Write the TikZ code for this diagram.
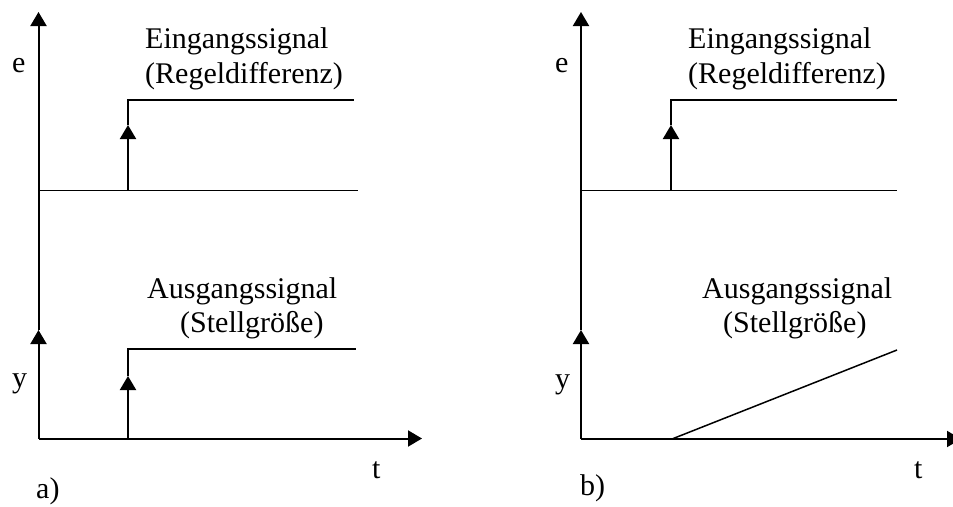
\documentclass[tikz,border=0pt]{standalone}
\usepackage{fontspec}
\setmainfont{Liberation Serif}
\usetikzlibrary{arrows.meta}
\begin{document}
\begin{tikzpicture}[x=1pt,y=-1pt,
  ax/.style={line width=2pt,line cap=butt},
  arr/.style={ax,-{Triangle[width=16pt,length=14pt]}},
  lbl/.style={inner sep=0pt,anchor=base west,font=\fontsize{30}{34}\selectfont},
  sig/.style={line width=1.9pt},
  ramp/.style={line width=1.5pt}]
\useasboundingbox[fill=white] (0,0) rectangle (953,506);
% ---------- panel a ----------
\coordinate (aO) at (38.5,438.5);
\coordinate (aYa) at (38.5,330);
\coordinate (aTop) at (38.5,12);
\coordinate (aT) at (422,438.5);
\coordinate (aE0) at (38.5,190.5);
\coordinate (aEs) at (128,190.5);
\coordinate (aEa) at (128,125);
\coordinate (aEh) at (128,100);
\coordinate (aEe) at (354,100);
\coordinate (aEb) at (358,190.5);
\coordinate (aYs) at (128,438.5);
\coordinate (aYar) at (128,376);
\coordinate (aYh) at (128,349);
\coordinate (aYe) at (356,349);
\draw[arr] (aO) -- (aYa);
\draw[arr] (aYa) -- (aTop);
\draw[arr] (aO) -- (aT);
\draw[sig] (aE0) -- (aEb);
\draw[arr] (aEs) -- (aEa);
\draw[sig] (aEa) -- (aEh) -- (aEe);
\draw[arr] (aYs) -- (aYar);
\draw[sig] (aYar) -- (aYh) -- (aYe);
\node[lbl] (ae) at (12,72) {e};
\node[lbl] (ay) at (12,387) {y};
\node[lbl] (at) at (372,478) {t};
\node[lbl] (aa) at (36,498) {a)};
\node[lbl] (ain1) at (145,48) {Eingangssignal};
\node[lbl] (ain2) at (145,83) {(Regeldifferenz)};
\node[lbl] (aout1) at (147,298) {Ausgangssignal};
\node[lbl] (aout2) at (180,332) {(Stellgröße)};
% ---------- panel b ----------
\coordinate (bO) at (581,439);
\coordinate (bYa) at (581,330);
\coordinate (bTop) at (581,12);
\coordinate (bT) at (961,439);
\coordinate (bE0) at (581,190.5);
\coordinate (bEs) at (671,190.5);
\coordinate (bEa) at (671,125);
\coordinate (bEh) at (671,100);
\coordinate (bEe) at (897,100);
\coordinate (bEb) at (897,190.5);
\coordinate (bR0) at (672,439);
\coordinate (bR1) at (897,350);
\draw[arr] (bO) -- (bYa);
\draw[arr] (bYa) -- (bTop);
\draw[arr] (bO) -- (bT);
\draw[sig] (bE0) -- (bEb);
\draw[arr] (bEs) -- (bEa);
\draw[sig] (bEa) -- (bEh) -- (bEe);
\draw[ramp] (bR0) -- (bR1);
\node[lbl] (be) at (555,72) {e};
\node[lbl] (by) at (555,388) {y};
\node[lbl] (bt) at (914,478) {t};
\node[lbl] (bb) at (580,495) {b)};
\node[lbl] (bin1) at (688,48) {Eingangssignal};
\node[lbl] (bin2) at (688,83) {(Regeldifferenz)};
\node[lbl] (bout1) at (702,298) {Ausgangssignal};
\node[lbl] (bout2) at (723,332) {(Stellgröße)};
\end{tikzpicture}
\end{document}
